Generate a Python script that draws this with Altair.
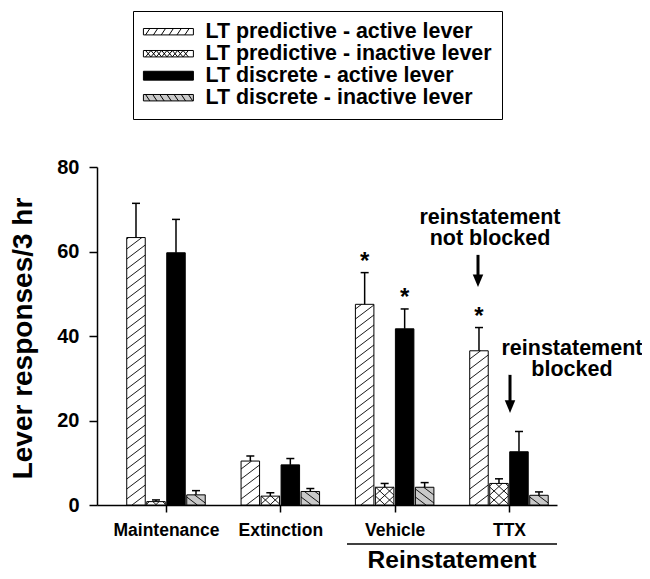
import altair as alt
import pandas as pd

# ---------------- data ----------------
groups = ["Maintenance", "Extinction", "Vehicle", "TTX"]
series = [
    "LT predictive - active lever",
    "LT predictive - inactive lever",
    "LT discrete - active lever",
    "LT discrete - inactive lever",
]
pred_active_mean = [63.3, 10.4, 47.5, 36.5]
pred_active_sem = [8.1, 1.2, 7.5, 5.5]
pred_inactive_mean = [0.8, 2.1, 4.2, 5.1]
pred_inactive_sem = [0.4, 0.8, 0.9, 1.1]
disc_active_mean = [59.7, 9.5, 41.7, 12.6]
disc_active_sem = [7.9, 1.5, 4.7, 4.8]
disc_inactive_mean = [2.4, 3.2, 4.2, 2.3]
disc_inactive_sem = [1.0, 0.7, 1.1, 0.8]
pred_active_star = ["", "", "*", "*"]
pred_inactive_star = ["", "", "", ""]
disc_active_star = ["", "", "*", ""]
disc_inactive_star = ["", "", "", ""]

ann_text = ["reinstatement\nnot blocked", "reinstatement\nblocked"]
ann_x = [2.834, 3.551]
ann_y = [67.9, 36.9]
arrow_x = [2.729, 3.009]
arrow_top = [59.2, 30.8]
arrow_tip = [51.6, 21.8]
bracket_label = "Reinstatement"
bracket_x = [1.583, 3.42]
bracket_y = -9.23
bracket_label_y = -13.2

# ---------------- build tables ----------------
means = [pred_active_mean, pred_inactive_mean, disc_active_mean, disc_inactive_mean]
sems = [pred_active_sem, pred_inactive_sem, disc_active_sem, disc_inactive_sem]
stars = [pred_active_star, pred_inactive_star, disc_active_star, disc_inactive_star]
rows = []
for si, s in enumerate(series):
    for gi, g in enumerate(groups):
        rows.append(dict(group=g, gi=gi, series=s, si=si,
                         mean=means[si][gi], sem=sems[si][gi], star=stars[si][gi]))
df = pd.DataFrame(rows)
ann_df = pd.DataFrame({"x": ann_x, "y": ann_y, "text": ann_text})
arrow_df = pd.DataFrame({"x": arrow_x, "ytop": arrow_top, "ytip": arrow_tip})
bracket_df = pd.DataFrame({"x": [bracket_x[0]], "x2": [bracket_x[1]], "y": [bracket_y],
                           "lx": [(bracket_x[0] + bracket_x[1]) / 2], "ly": [bracket_label_y],
                           "text": [bracket_label]})

# ---------------- layout / style constants ----------------
W, H = 460, 338
PXU = 114.33            # px per category unit
PY = 80.0 / H           # data units per px vertically
STEP = 20 / PXU
BW = 18.5 / PXU
FONT = "Liberation Sans"
FILLS = ["white", "white", "black", "#c9c9c9"]

xs = alt.Scale(domain=[-0.6035, 3.42], nice=False, zero=False)
ys = alt.Scale(domain=[0, 80], nice=False)

base = alt.Chart(df).transform_calculate(
    c=f"datum.gi + (datum.si - 1.5) * {STEP}",
).transform_calculate(
    xl=f"datum.c - {BW / 2}",
    xr=f"datum.c + {BW / 2}",
    top="datum.mean + datum.sem",
    zero="0",
)

x_axis = alt.Axis(
    values=[0, 1, 2, 3],
    labelExpr="[" + ",".join(f"'{g}'" for g in groups) + "][datum.value]",
    title=None, grid=False, tickSize=7, tickWidth=1.5, domainWidth=1.5,
    domainColor="black", tickColor="black", labelColor="black",
    labelFont=FONT, labelFontSize=17.5, labelFontWeight="bold", labelPadding=9,
)
y_axis = alt.Axis(
    values=[0, 20, 40, 60, 80], title="Lever responses/3 hr", grid=False,
    tickSize=8, tickWidth=1.5, domainWidth=1.5, domainColor="black",
    tickColor="black", labelColor="black", labelFont=FONT, labelFontSize=20,
    labelFontWeight="bold", labelPadding=10, titleFont=FONT, titleFontSize=28,
    titleFontWeight="bold", titleColor="black", titleX=-74, titleY=171,
    titleAngle=270, titleAlign="center", titleBaseline="middle",
)

# legend via invisible points with custom hatched symbols
X0 = -1.44


def rect_path(w, hh):
    return f"M{X0},{-hh}H{X0 + w:.2f}V{hh}H{X0}Z"


def hatch_path(w, hh, step, run, dirs):
    p = rect_path(w, hh)
    x = X0 + 0.3
    while x + run <= X0 + w - 0.1:
        for d in dirs:
            if d > 0:
                p += f"M{x:.2f},{hh}L{x + run:.2f},{-hh}"
            else:
                p += f"M{x:.2f},{-hh}L{x + run:.2f},{hh}"
        x += step
    return p


SW = 7.0
shape_range = [
    hatch_path(SW, 0.45, 1.1, 0.6, [1]),
    hatch_path(SW, 0.45, 0.75, 0.75, [1, -1]),
    rect_path(SW, 0.62),
    hatch_path(SW, 0.45, 1.0, 0.6, [-1]),
]
legend = alt.Legend(
    title=None, orient="none", legendX=36, legendY=-156, direction="vertical",
    strokeColor="black", padding=10, fillColor="white",
    symbolSize=204, symbolStrokeWidth=1,
    symbolOpacity=1, labelFont=FONT, labelFontSize=21.4, labelFontWeight="bold",
    labelColor="black", labelOffset=41, rowPadding=-1.3, labelLimit=500,
)
legend_pts = base.mark_point(filled=True, opacity=0, strokeWidth=1).encode(
    x=alt.X("c:Q", scale=xs, axis=x_axis), y=alt.Y("mean:Q", scale=ys, axis=y_axis),
    shape=alt.Shape("series:N", scale=alt.Scale(domain=series, range=shape_range),
                    legend=legend, sort=series),
    fill=alt.Fill("series:N", scale=alt.Scale(domain=series, range=FILLS),
                  legend=legend, sort=series),
    stroke=alt.Stroke("series:N", scale=alt.Scale(domain=series, range=["black"] * 4),
                      legend=legend, sort=series),
)

bars = base.mark_rect(stroke="black", strokeWidth=1).encode(
    x=alt.X("xl:Q", scale=xs, axis=x_axis),
    x2="xr:Q",
    y=alt.Y("mean:Q", scale=ys, axis=y_axis),
    y2="zero:Q",
    color=alt.Color("series:N", scale=alt.Scale(domain=series, range=FILLS), legend=None),
)

# hatching inside bars
hatch = base.transform_calculate(
    dirs="datum.si == 0 ? [1] : datum.si == 1 ? [1, -1] : datum.si == 3 ? [-1] : []",
    S=f"(datum.si == 0 ? 10 : datum.si == 1 ? 9 : 8) * {PY}",
    R=f"(datum.si == 0 ? 14 : datum.si == 1 ? 17 : 14) * {PY}",
).transform_flatten(["dirs"], as_=["dir"]).transform_calculate(
    ks="sequence(0, ceil((datum.mean + datum.R) / datum.S) + 1)"
).transform_flatten(["ks"], as_=["k"]).transform_calculate(
    b="datum.k * datum.S - datum.R",
).transform_calculate(
    ulo="max(0, -datum.b / datum.R)",
    uhi="min(1, (datum.mean - datum.b) / datum.R)",
    w="datum.xr - datum.xl",
).transform_filter("datum.ulo < datum.uhi").transform_calculate(
    hx1="datum.dir > 0 ? datum.xl + datum.ulo * datum.w : datum.xr - datum.ulo * datum.w",
    hx2="datum.dir > 0 ? datum.xl + datum.uhi * datum.w : datum.xr - datum.uhi * datum.w",
    hy1="datum.b + datum.R * datum.ulo",
    hy2="datum.b + datum.R * datum.uhi",
).mark_rule(color="black", strokeWidth=0.9).encode(
    x=alt.X("hx1:Q", scale=xs),
    x2="hx2:Q",
    y=alt.Y("hy1:Q", scale=ys),
    y2="hy2:Q",
)

err = base.mark_rule(color="black", strokeWidth=1.5).encode(
    x=alt.X("c:Q", scale=xs), y=alt.Y("mean:Q", scale=ys), y2="top:Q")
cap = base.transform_calculate(
    cl=f"datum.c - {4 / PXU}", cr=f"datum.c + {4 / PXU}"
).mark_rule(color="black", strokeWidth=1.5).encode(
    x=alt.X("cl:Q", scale=xs), x2="cr:Q", y=alt.Y("top:Q", scale=ys))
star = base.transform_filter("datum.star != ''").mark_text(
    font=FONT, fontSize=24, fontWeight="bold", color="black", baseline="alphabetic", dy=-4
).encode(x=alt.X("c:Q", scale=xs), y=alt.Y("top:Q", scale=ys), text="star:N")

# annotations
ann = alt.Chart(ann_df).mark_text(
    font=FONT, fontSize=21.5, fontWeight="bold", color="black", baseline="middle",
    lineBreak="\n", lineHeight=21,
).encode(x=alt.X("x:Q", scale=xs), y=alt.Y("y:Q", scale=ys), text="text:N")
arr_base = alt.Chart(arrow_df).transform_calculate(yend=f"datum.ytip + {6 * PY}")
shaft = arr_base.mark_rule(color="black", strokeWidth=3).encode(
    x=alt.X("x:Q", scale=xs), y=alt.Y("ytop:Q", scale=ys), y2="yend:Q")
head = arr_base.mark_point(
    shape="M-1,-2.4L1,-2.4L0,0Z", filled=True, color="black", size=110, opacity=1
).encode(x=alt.X("x:Q", scale=xs), y=alt.Y("ytip:Q", scale=ys))

br = alt.Chart(bracket_df)
br_line = br.mark_rule(color="black", strokeWidth=1.5).encode(
    x=alt.X("x:Q", scale=xs), x2="x2:Q", y=alt.Y("y:Q", scale=ys))
br_text = br.mark_text(
    font=FONT, fontSize=24.5, fontWeight="bold", color="black", baseline="middle"
).encode(x=alt.X("lx:Q", scale=xs), y=alt.Y("ly:Q", scale=ys), text="text:N")

chart = alt.layer(
    legend_pts, bars, hatch, err, cap, star, ann, shaft, head, br_line, br_text
).properties(
    width=W, height=H,
    autosize=alt.AutoSizeParams(type="none"),
    padding={"left": 89, "top": 159, "right": 85, "bottom": 66},
).configure_view(stroke=None)

chart.save("out.html", embed_options={"renderer": "svg", "actions": False})
